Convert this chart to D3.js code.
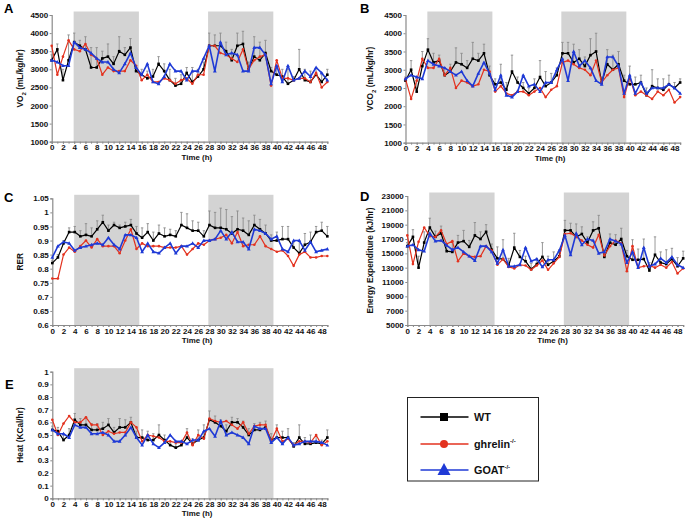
<!DOCTYPE html>
<html><head><meta charset="utf-8">
<script src="https://cdn.jsdelivr.net/npm/d3@7"></script>
<style>
body{margin:0;background:#fff;}
text{font-family:"Liberation Sans",Arial,sans-serif;font-weight:bold;}
</style></head>
<body><svg id="c" width="686" height="526"></svg>
<script>
const hours = d3.range(50);
const xTicks = d3.range(0, 49, 2);
const darkPeriods = [[3.9, 15.5], [27.8, 39.4]];
const seriesNames = ["WT", "ghrelin", "GOAT"];

const wtVO2 = [3250,3550,2700,3250,3750,3650,3550,3050,3050,3300,3350,3150,3500,3400,3600,2950,2850,2750,2800,3150,2950,2700,2550,2600,2900,2650,2800,3000,3650,3650,3650,3500,3250,3650,3700,3000,3350,3250,3450,2950,2850,2800,2600,2700,3000,2700,2650,2850,2650,2850];
const ghrVO2 = [3650,2850,3350,3800,3550,3500,3700,3400,3300,2850,3050,2950,2950,2950,3250,3100,2700,2850,2650,2650,2750,2700,2600,2700,2750,2600,2850,2850,3650,3650,3450,3400,3300,3200,3550,3000,3250,3350,3400,2550,3250,2750,2750,2700,2750,2750,2650,2900,2500,2650];
const goatVO2 = [3250,3200,3100,3100,3750,3600,3550,3450,3300,3200,3200,3000,2900,3150,3450,3050,2850,3150,2650,2600,2800,3150,2950,2950,2700,2950,2950,3300,3650,2950,3750,3400,3450,3400,2950,2950,3600,3600,3400,2600,3100,2650,3100,2700,2750,2950,2800,3050,2900,2700];
const errVO2 = [150,150,300,700,250,150,350,550,550,200,350,200,400,200,250,150,150,200,200,200,200,300,200,250,150,400,200,200,350,300,350,250,300,350,350,200,550,500,350,100,200,200,400,100,550,300,300,200,200,150];

const wtVCO2 = [2700,3000,2400,3100,3550,3200,3250,2850,2950,3200,3150,3050,3300,3250,3450,2850,2600,2650,2450,2950,2650,2500,2350,2500,2800,2550,2650,2850,3450,3450,3200,3300,3100,3400,3500,2650,3150,3000,3150,2700,2600,2600,2650,2300,2550,2500,2450,2600,2500,2650];
const ghrVCO2 = [2750,2200,2700,3300,3050,3050,3300,2850,3050,2500,2700,2650,2550,2600,3000,2950,2400,2550,2350,2300,2400,2400,2300,2400,2500,2250,2450,2550,3200,3250,3150,3050,3000,2850,3250,2650,2850,3000,3050,2250,2800,2300,2400,2300,2200,2400,2300,2450,2100,2250];
const goatVCO2 = [2750,2850,2800,2750,3250,3150,3100,3050,2950,2850,2950,2700,2550,2900,3200,2900,2450,2850,2300,2250,2400,2850,2550,2600,2400,2650,2650,3000,3300,2700,3500,3100,3250,3050,2700,2600,3350,3350,3100,2350,2850,2350,2650,2350,2500,2500,2500,2600,2500,2350];
const errVCO2 = [100,250,300,400,300,250,150,200,200,400,300,200,450,200,250,250,150,500,200,450,150,150,150,250,450,400,250,200,300,300,500,250,250,450,500,150,400,400,350,150,500,200,200,200,450,250,300,250,150,100];

const wtRER = [0.82,0.84,0.89,0.93,0.93,0.915,0.92,0.915,0.94,0.965,0.935,0.955,0.945,0.95,0.955,0.925,0.91,0.93,0.9,0.925,0.915,0.92,0.915,0.955,0.945,0.935,0.935,0.915,0.955,0.945,0.945,0.94,0.925,0.94,0.935,0.92,0.955,0.94,0.925,0.9,0.9,0.905,0.905,0.875,0.855,0.885,0.895,0.93,0.935,0.915];
const ghrRER = [0.765,0.765,0.85,0.875,0.86,0.88,0.9,0.875,0.905,0.88,0.88,0.88,0.855,0.9,0.94,0.87,0.89,0.88,0.88,0.88,0.875,0.875,0.875,0.88,0.85,0.87,0.89,0.885,0.9,0.905,0.91,0.92,0.89,0.93,0.88,0.885,0.885,0.915,0.88,0.87,0.86,0.865,0.845,0.81,0.85,0.86,0.84,0.84,0.845,0.845];
const goatRER = [0.84,0.88,0.895,0.89,0.865,0.875,0.88,0.885,0.89,0.885,0.91,0.885,0.87,0.92,0.92,0.91,0.86,0.89,0.86,0.855,0.875,0.89,0.855,0.88,0.88,0.89,0.875,0.9,0.9,0.905,0.935,0.905,0.93,0.895,0.895,0.87,0.94,0.935,0.925,0.905,0.915,0.87,0.86,0.9,0.9,0.865,0.895,0.86,0.865,0.87];
const errRER = [0.01,0.01,0.01,0.015,0.02,0.02,0.04,0.03,0.03,0.025,0.02,0.01,0.01,0.015,0.02,0.025,0.035,0.03,0.03,0.03,0.03,0.02,0.02,0.045,0.05,0.035,0.03,0.02,0.05,0.055,0.07,0.07,0.06,0.065,0.045,0.05,0.035,0.035,0.03,0.02,0.03,0.045,0.045,0.02,0.045,0.04,0.035,0.02,0.03,0.035];

const wtEE = [16000,17300,13000,16500,18600,17300,17800,15300,15200,16500,16700,15900,17500,17000,18000,15500,14300,14200,13300,15800,14500,13900,12800,13500,14500,13400,13900,14600,18200,18200,17300,17700,16500,18200,18500,14500,16500,16200,17000,14600,14100,14100,14200,12600,14800,13700,13500,14200,13200,14300];
const ghrEE = [17500,13500,16600,18600,17400,17300,18200,16300,16700,13900,15000,14600,14500,14600,16000,15400,13400,14200,13100,12900,13400,13300,12700,13300,14000,12700,13600,14500,17700,17800,17300,16800,16200,15800,17600,14700,16000,16800,16400,12500,16000,13000,13200,13300,13000,13400,13000,13800,12200,12900];
const goatEE = [16000,16200,15500,15300,17800,16700,16800,16100,15500,15800,15200,14600,14000,16000,16000,15200,13600,15500,13200,13200,13400,15800,13900,14200,13100,14100,14100,15400,17500,14800,17800,16200,17000,16800,15000,15200,17000,16700,16300,13700,15200,13000,15800,13200,13500,14300,13700,14500,13400,13000];
const errEE = [500,1000,1600,1500,1300,800,1000,900,1400,1000,1500,900,1800,1000,1000,800,1600,2700,1000,2000,900,700,800,800,2000,1200,1300,900,1400,1000,1800,1000,800,1200,1800,900,1200,1400,1500,800,2800,1500,2800,1100,2500,1500,2000,1500,1200,1000];

const wtHeat = [0.54,0.53,0.46,0.5,0.62,0.58,0.58,0.54,0.54,0.55,0.58,0.52,0.56,0.56,0.6,0.48,0.48,0.46,0.46,0.5,0.46,0.42,0.4,0.42,0.48,0.43,0.46,0.48,0.62,0.6,0.57,0.53,0.6,0.6,0.56,0.5,0.54,0.54,0.56,0.46,0.48,0.48,0.48,0.41,0.48,0.43,0.43,0.44,0.43,0.48];
const ghrHeat = [0.62,0.5,0.59,0.65,0.6,0.6,0.64,0.58,0.58,0.5,0.53,0.51,0.52,0.52,0.6,0.56,0.45,0.5,0.49,0.48,0.45,0.45,0.44,0.44,0.52,0.42,0.5,0.47,0.63,0.61,0.6,0.61,0.58,0.55,0.6,0.51,0.57,0.58,0.58,0.45,0.55,0.45,0.47,0.42,0.45,0.45,0.44,0.5,0.42,0.45];
const goatHeat = [0.54,0.51,0.51,0.48,0.58,0.56,0.56,0.51,0.51,0.52,0.5,0.45,0.45,0.5,0.56,0.48,0.42,0.5,0.43,0.4,0.44,0.5,0.45,0.45,0.43,0.46,0.46,0.53,0.55,0.49,0.61,0.5,0.52,0.5,0.48,0.43,0.57,0.55,0.55,0.44,0.48,0.43,0.48,0.42,0.43,0.45,0.45,0.45,0.44,0.42];
const errHeat = [0.03,0.03,0.04,0.05,0.05,0.05,0.06,0.05,0.05,0.05,0.05,0.04,0.07,0.06,0.04,0.05,0.06,0.07,0.05,0.08,0.04,0.03,0.03,0.03,0.07,0.04,0.08,0.1,0.07,0.05,0.05,0.05,0.04,0.03,0.05,0.05,0.05,0.06,0.05,0.05,0.1,0.05,0.07,0.03,0.1,0.05,0.07,0.06,0.03,0.06];

const ticksVO2 = d3.range(1000, 4501, 500);
const ticksRER = [0.6,0.65,0.7,0.75,0.8,0.85,0.9,0.95,1,1.05];
const ticksEE = d3.range(5000, 23001, 2000);
const ticksHeat = [0,0.1,0.2,0.3,0.4,0.5,0.6,0.7,0.8,0.9,1];

const colors = {WT:"#000000", ghrelin:"#e3321f", GOAT:"#1f3ad6"};

const panels = [
  {letter:"A", title:["VO","2"," (mL/kg/hr)"], data:[wtVO2,ghrVO2,goatVO2], err:errVO2, ticks:ticksVO2, dom:[1000,4500],
   x0:51.7, pxh:5.625, top:15, bottom:141.7, lx:4, ly:13, tx:23},
  {letter:"B", title:["VCO","2"," (mL/kg/hr)"], data:[wtVCO2,ghrVCO2,goatVCO2], err:errVCO2, ticks:ticksVO2, dom:[1000,4500],
   x0:405.5, pxh:5.605, top:15, bottom:142.7, lx:360, ly:13, tx:373},
  {letter:"C", title:["RER"], data:[wtRER,ghrRER,goatRER], err:errRER, ticks:ticksRER, dom:[0.6,1.05],
   x0:52.3, pxh:5.613, top:198.3, bottom:325, lx:4, ly:202, tx:23},
  {letter:"D", title:["Energy Expenditure (kJ/hr)"], data:[wtEE,ghrEE,goatEE], err:errEE, ticks:ticksEE, dom:[5000,23000],
   x0:407.3, pxh:5.63, top:196, bottom:325, lx:360, ly:201, tx:373},
  {letter:"E", title:["Heat (KCal/hr)"], data:[wtHeat,ghrHeat,goatHeat], err:errHeat, ticks:ticksHeat, dom:[0,1],
   x0:52.3, pxh:5.613, top:371.7, bottom:498.3, lx:5, ly:389, tx:23}
];

const svg = d3.select("#c");

function fmt(v){ return (Math.round(v*1000)/1000).toString(); }

panels.forEach(p => {
  const x = d3.scaleLinear().domain([0,49]).range([p.x0, p.x0 + 49*p.pxh]);
  const y = d3.scaleLinear().domain(p.dom).range([p.bottom, p.top]);
  const g = svg.append("g");

  // dark periods
  darkPeriods.forEach(d => {
    g.append("rect").attr("x", x(d[0])).attr("y", p.top - 3.5)
      .attr("width", x(d[1]) - x(d[0])).attr("height", p.bottom - p.top + 3.5)
      .attr("fill", "#d3d3d3");
  });

  // hourly minor ticks
  g.append("g").attr("transform", `translate(0,${p.bottom})`)
    .call(d3.axisBottom(x).tickValues(hours).tickSize(2).tickFormat(""))
    .call(a => { a.select("path").remove(); a.selectAll("line").attr("stroke", "#8a8a8a"); });

  // axes
  const ya = g.append("g").attr("transform", `translate(${p.x0},0)`)
    .call(d3.axisLeft(y).tickValues(p.ticks).tickSize(2).tickPadding(1.5).tickFormat(fmt));
  const xa = g.append("g").attr("transform", `translate(0,${p.bottom})`)
    .call(d3.axisBottom(x).tickValues(xTicks).tickSize(2).tickPadding(1).tickFormat(d3.format("d")));
  [ya, xa].forEach(a => {
    a.selectAll("path").attr("stroke", "#8a8a8a").attr("stroke-width", 1.2);
    a.selectAll("line").attr("stroke", "#8a8a8a");
    a.selectAll("text").attr("font-size", 8).attr("font-weight", "bold").attr("fill", "#111")
      .attr("font-family", '"Liberation Sans",Arial,sans-serif');
  });

  // x title
  g.append("text").attr("x", x(25.8)).attr("y", p.bottom + 17.8).attr("text-anchor", "middle")
    .attr("font-size", 7.9).attr("fill", "#111").text("Time (h)");

  // y title
  const yt = g.append("text").attr("transform", `translate(${p.tx},${(p.top+p.bottom)/2}) rotate(-90)`)
    .attr("text-anchor", "middle").attr("font-size", 8.3).attr("fill", "#111");
  if (p.title.length === 3) {
    yt.append("tspan").text(p.title[0]);
    yt.append("tspan").attr("font-size", 6).attr("dy", 2.5).text(p.title[1]);
    yt.append("tspan").attr("dy", -2.5).text(p.title[2]);
  } else {
    yt.text(p.title[0]);
  }

  // panel letter
  svg.append("text").attr("x", p.lx).attr("y", p.ly).attr("font-size", 13).attr("fill", "#000").text(p.letter);

  // error bars (WT, upward)
  const wt = p.data[0];
  const eb = g.append("g").attr("stroke", "#8c8c8c").attr("stroke-width", 0.9);
  hours.forEach(h => {
    const top = y(Math.min(wt[h] + p.err[h], p.dom[1] + (p.dom[1]-p.dom[0])*0.01));
    eb.append("line").attr("x1", x(h)).attr("x2", x(h)).attr("y1", y(wt[h])).attr("y2", top);
    eb.append("line").attr("x1", x(h)-1.2).attr("x2", x(h)+1.2).attr("y1", top).attr("y2", top);
  });

  // lines and markers
  const line = d3.line().x((d,i) => x(hours[i])).y(d => y(d));
  seriesNames.forEach((name, si) => {
    const vals = p.data[si];
    const c = colors[name];
    g.append("path").attr("d", line(vals)).attr("fill", "none").attr("stroke", c)
      .attr("stroke-width", name === "GOAT" ? 1.6 : 1.2).attr("stroke-linejoin", "round");
    const mg = g.append("g").attr("fill", c);
    vals.forEach((v, i) => {
      const cx = x(hours[i]), cy = y(v);
      if (name === "WT") mg.append("rect").attr("x", cx-1.3).attr("y", cy-1.3).attr("width", 2.6).attr("height", 2.6);
      else if (name === "ghrelin") mg.append("circle").attr("cx", cx).attr("cy", cy).attr("r", 1.3);
      else mg.append("path").attr("d", `M${cx},${cy-2}L${cx+1.9},${cy+1.4}L${cx-1.9},${cy+1.4}Z`);
    });
  });
});

// legend
const lg = svg.append("g");
lg.append("rect").attr("x", 407.5).attr("y", 397.5).attr("width", 131).attr("height", 83.5)
  .attr("fill", "#fff").attr("stroke", "#222").attr("stroke-width", 1);
const legendY = [417, 444, 470];
seriesNames.forEach((name, i) => {
  const c = colors[name], yy = legendY[i];
  lg.append("line").attr("x1", 420.5).attr("x2", 468.5).attr("y1", yy).attr("y2", yy).attr("stroke", c).attr("stroke-width", 1.5);
  if (name === "WT") lg.append("rect").attr("x", 440).attr("y", yy-4).attr("width", 8).attr("height", 8).attr("fill", c);
  else if (name === "ghrelin") lg.append("circle").attr("cx", 444).attr("cy", yy).attr("r", 4).attr("fill", c);
  else lg.append("path").attr("d", `M444,${yy-7}L450.5,${yy+5}L437.5,${yy+5}Z`).attr("fill", c);
  const t = lg.append("text").attr("x", 474).attr("y", yy + 3.8).attr("font-size", 10.8).attr("fill", "#111");
  if (name === "WT") t.text("WT");
  else {
    t.append("tspan").text(name);
    t.append("tspan").attr("font-size", 6).attr("dy", -4.5).text("-/-");
  }
});
</script></body></html>
